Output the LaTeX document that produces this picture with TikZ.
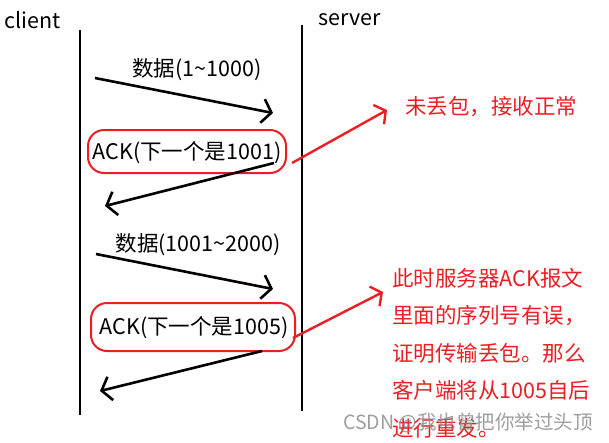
\documentclass[tikz,border=0pt]{standalone}
\usepackage{fontspec}
\setmainfont{Noto Sans CJK SC}
\usetikzlibrary{arrows.meta}
\definecolor{mark}{RGB}{235,30,35}
\begin{document}
\begin{tikzpicture}[x=1pt,y=-1pt,
  lbl/.style={font=\fontsize{21.5}{24}\selectfont, inner sep=0pt, anchor=center},
  life/.style={line width=2.6pt},
  msg/.style={line width=2.6pt, -{Straight Barb[length=9pt,width=24pt]}},
  note/.style={line width=2.4pt, draw=mark, -{Straight Barb[length=8pt,width=22pt]}},
  ackbox/.style={draw=mark, line width=2pt, rounded corners=16pt, inner sep=0pt},
  notetext/.style={text=mark, inner sep=0pt, font=\fontsize{21.5}{37.5}\selectfont, align=left}]
\useasboundingbox (0,0) rectangle (609,442);
% headers
\node[lbl, anchor=west] (client) at (4,20) {client};
\node[lbl, anchor=west] (server) at (318,20) {server};
% lifelines
\coordinate (clt) at (80,30);
\coordinate (clb) at (80,415);
\coordinate (svt) at (302,25);
\coordinate (svb) at (302,411);
\draw[life] (clt) -- (clb);
\draw[life] (svt) -- (svb);
% message 1
\coordinate (m1s) at (95,78);
\coordinate (m1e) at (273,113);
\draw[msg] (m1s) -- (m1e);
\node[lbl] (d1) at (197,70) {数据(1\textasciitilde1000)};
% ack 1
\node[ackbox, minimum width=198pt, minimum height=43pt] (box1) at (187,151.5) {};
\node[lbl] (ack1) at (187,153) {ACK(下一个是1001)};
\coordinate (m2s) at (274,163);
\coordinate (m2e) at (105,206);
\draw[msg] (m2s) -- (m2e);
% message 3
\node[lbl] (d2) at (198,245) {数据(1001\textasciitilde2000)};
\coordinate (m3s) at (96,254);
\coordinate (m3e) at (273,289);
\draw[msg] (m3s) -- (m3e);
% ack 2
\node[ackbox, minimum width=204pt, minimum height=48pt] (box2) at (193,327) {};
\node[lbl] (ack2) at (194,328) {ACK(下一个是1005)};
\coordinate (m4s) at (262,351);
\coordinate (m4e) at (100,391);
\draw[msg] (m4s) -- (m4e);
% notes
\node[notetext, anchor=west] (n1) at (405,107) {未丢包，接收正常};
\coordinate (r1s) at (292,163);
\coordinate (r1e) at (387,110);
\draw[note] (r1s) -- (r1e);
\node[notetext, anchor=north west] (n2) at (392,268) {此时服务器ACK报文\\里面的序列号有误，\\证明传输丢包。那么\\客户端将从1005自后\\进行重发。};
\coordinate (r2s) at (293,338);
\coordinate (r2e) at (383,292);
\draw[note] (r2s) -- (r2e);
% watermark
\node[inner sep=0pt, text=black!45, opacity=0.85, font=\fontsize{19.5}{22}\selectfont, anchor=west] (wm) at (343,423) {CSDN @我也曾把你举过头顶};
\end{tikzpicture}
\end{document}
